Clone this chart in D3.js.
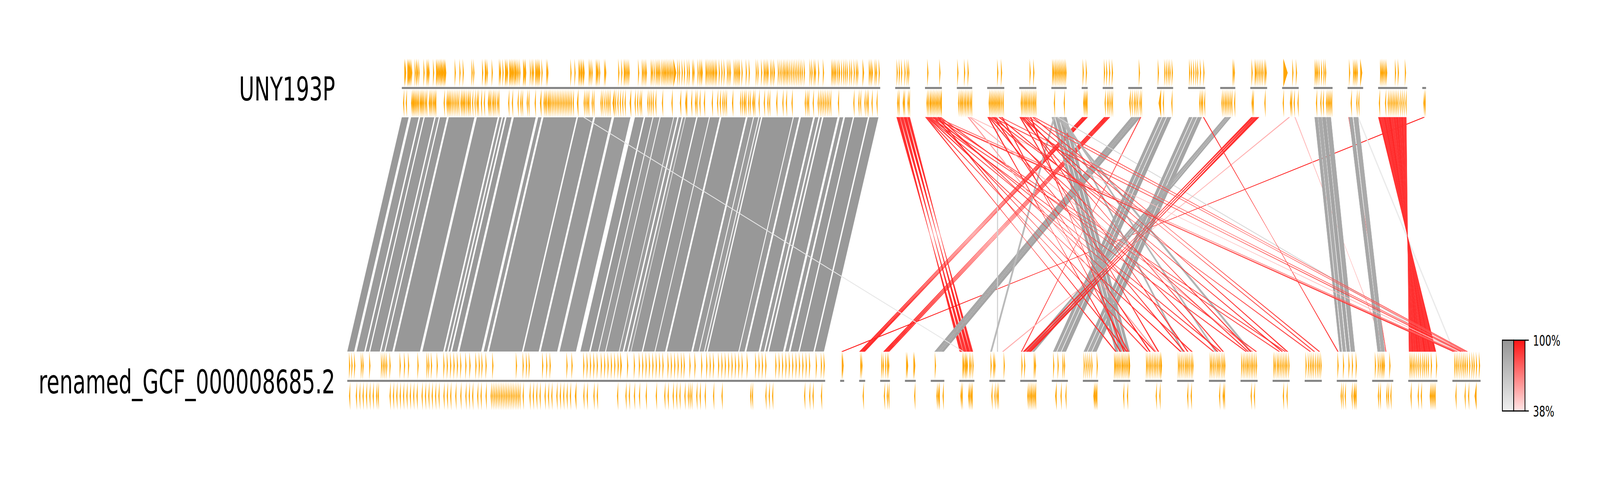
<!DOCTYPE html>
<html>
<head>
<meta charset="utf-8">
<script src="https://cdn.jsdelivr.net/npm/d3@7"></script>
<style>
  html, body { margin: 0; padding: 0; background: #ffffff; overflow: hidden; }
  svg { display: block; width: 100vw; height: 100vh; font-family: "DejaVu Sans", sans-serif; }
</style>
</head>
<body>
<svg id="chart" viewBox="0 0 6358 1225" preserveAspectRatio="none"></svg>
<script>
// ===================== DATA (kb) =====================
const trackNames = ["UNY193P", "renamed_GCF_000008685.2"];

// segment (replicon) sizes in kb, in drawing order
const topSegSizes = [950.5, 29.5, 33.5, 30.5, 34, 34, 30.5, 12, 21, 27.5, 32, 34, 30, 33.5, 33, 37.5, 31, 58, 7.5];
const botSegSizes = [949.5, 8, 12, 19.5, 21.5, 27, 30, 31.5, 33, 32, 30.5, 34, 33.5, 33.5, 33, 34, 34, 34, 40.5, 42, 58, 56];

// genes: start kb (default length) or [start, length]
const topChromFwd = [5, 6.3, 11, 12.3, [13.5, 2.5], 15, 16.5, 18.5, 25.5, 28.5, 30, 33, 43, 49, 51, 53, 62, 68, 69.5, 71.5, 73.5, 75.5, 77.5, 79, 81, 83, 84.5, 86, 105, 114.5, 121, 138.5, 142, 159.5, 165, 166.5, 169, 178.5, 193, 195, 200, [205, 3], 207, 209, 213.5, 215, 217, 219, 221, [223.5, 3], 225.5, 228, 230.5, 233.5, [241, 4], 244, 245, 254.5, 258, 260.5, 265, 267, 269, 271, 273, 277.5, 287, 289, 335, 343, 351, 353, 355.5, 357, 359.5, 361, 371.5, 374, 377, 385.5, 387, 389, 392, 402, 404, 430, 436, 441, 443, 445.5, 448, 450.5,
  469.4, 477, 479.6, 482.4, 484.8, 494.6, 497, 500.6, 504.5, 507, 509.4, 512, 515.7, 518.5, 521, 523.4, 526.2, 528.7, 531.5, 534, 536.7, [539.5, 6], 547.3, 550.8, 556, 560.6, 566.5, [570, 2.5], 577, 579.5, 587.6, 591, 593.6, 595.7, 603.4, 605.8, 608.6, 611.4, 614, 616.7, 619, 622, 624.4, 629.7, 635, 639.5, 646, 649, 651.8, 659.5, 662.3, 665, 667.6, [670, 2.5], 675, 683.4, 689.3, 703.3, 706.8, 713.9, 719, 721.6, 724.4, 726.8, 732, 735, [738.4, 3], 747.2, 750.7, 754.2, 757.7, 760.5, 763.7, 766.5, 770, 773.5, 777, 780.5, 784, 787.5, 791, 794.5, 798.7, 810.3, [813.8, 2.5], 818.4, 820.8, 827.2, 836.6, 853.5, 856, 858.7, 861.2, 864.7, [868, 3], 872.8, 877, 880.5, 884, 889.2, 892.7, 898, 902.2, 905, [915.5, 3], 927.8, 930.3, [933, 3], 939.4, 942.2, 947.5];

const topChromRev = [2.4, 7.8, 18.4, 20.6, 22.5, 24.7, 27, 29.5, 32, 35.3, 37.5, 39.7, 42.3, 45.5, 48, 53.4, 55.7, 58.2, 61.4, 64, 66.2, 83.1, 88.5, 91, 93.3, 95.9, 99, 102.2, 105.4, 108.6, 111.8, 116.3, 118.8, 121.4, 123.6, 126.8, 130, 132.2, 134.8, 139.5, 144.3, 148.2, 150.7, 157, 162.8, 170.8, 173, 175.6, 179.4, 182, 185.1, 189, 191.5, 211.3, 218.6, 229.8, 235.2, 238.4, 248, 251.2, 263.9, [274.4, 3], 281.4, 284, 286.2, 289.4, 291.6, 294.2, 297.4, 300.6, 303.8, 307, 310.1, 313.3, 316.5, 319.7, 322.9, 326.1, 329.3, 332.5, 335.7, 339.5, [347.8, 3], 361.2, 364.4, 367.5, 370.1, 377.1, 380.3, 394.6, 397.8, 402, 405.8, 409, 412.2, [418.6, 4], 423.4, 428.1, 432.9, 437.7, 442.5,
  [452.6, 3], 462.4, 467.3, 471.8, [474.6, 2.5], 487.6, 491.1, 494.6, 498.2, 503.4, 516.7, 535.7, [552.5, 2.5], 563, 564.8, 574.6, 582.3, 585.1, 591.1, [599.9, 2.5], 615.7, 626.2, [631.4, 2.5], 636.7, 640.2, 643.7, [656, 2.5], 671.8, 675.3, [678.8, 3], 682.3, 687.6, 691.1, [696.3, 3], 699.8, 708.6, 719.1, 726.1, 729.6, [743.7, 2.5], 756, 763, 774.2, 800.5, 804, [806.8, 2.5], 816.3, 826.1, 829.6, 833.1, 836.6, 840.1, 843.6, 847.1, 850.7, 866.4, 897, 906.8, 910.3, 919, 922.6, 925.4, 933.1, 942.9];

const botChromFwd = [3.5, 8.2, 13.6, 27, 30.3, 43.7, 67.1, 70.5, 73.8, 77.2, 83.9, 104, 112.7, 120.7, 139.5, 157.5, 160.9, 166.3, 177.6, 191, 197.7, 204.4, 211.1, 217.8, 224.5, 234.6, [242.6, 2.5], 254.6, 261.3, 266.7, 274.7, 288.1, 335, 348.4, 355.1, 360.5, 387.2, 395.3, 402, 435.5, 445.5, 468.9, 475.6, 482.3, 489, 495.7, 503.8, 510.5, 517.2, 523.8, 530.5, 537.2, [542.6, 3], 556, 569.4, 579.4, 586.1, 592.8, 599.5, 606.2, 612.9, 619.6, 626.3, 636.4, 643, 649.7, 656.4, 663.1, 668.5, 679.9, 689.9, 703.3, 713.3, 720.1, 726.7, 736.8, 743.5, 750.2, 756.9, 763.6, 770.3, 777, 783.7, 793.7, 810.5, 817.2, 823.9, 830.6, 850.6, 857.3, 864, 870.7, 877.4, 884.1, 890.8, 897.5, 904.2, 910.9, 917.6, 931, 941, 946.5];

const botChromRev = [3.5, 16.9, 23.6, 30.3, 37, 43.7, 50.4, 57.1, 60.4, 83.9, 90.6, 97.3, 104, 110.7, 117.4, 124.1, 130.8, 137.5, 147.5, 154.2, 160.9, 167.6, 174.3, 181, 191, 197.7, 204.4, 214.5, 224.5, 234.6, 241.3, 248, 258, 264.7, 274.7, 284.8, 288.1, 291.5, 294.8, 298.2, 301.5, 304.9, 308.2, 311.6, 314.9, 318.3, 321.6, 325, 328.3, 331.7, 335, 338.4, 341.7, 348.4, 361.8, 368.5, 375.2, 381.9, 391.9, 398.6, 405.3, 415.4, 422.1, 428.8, 435.5, 442.2, [452.2, 3], 468.9, 475.6, 489, 495.7, 535.9, 552.6, 559.3, 569.4, 579.4, 592.8, 612.9, 629.7, 636.4, 646.4, 653.1, 659.8, 669.8, 676.5, 679.9, 683.2, 693.3, 700, 710, 726.7, 743.5, 800.4, 803.8, 830.6, 837.3, 844, 907.6, 917.6, 924.3, 941];

// plasmid genes (segments 2..n, local kb)
const topPlasmidFwd = [
  [2.9, 7.3, 11.8, 18.5, 23, 26],
  [4.5, 28.5],
  [0.9, 14.3, 21.4],
  [19.9, 27.4],
  [20.6, 27.8],
  [1.8, 3.9, 6.7, 9.3, 12, 14.7, 17.3, 20, 22.7, 25.4, 28],
  [2, 8.3],
  [2.5, 7, 12.8, 18.2],
  [21.1],
  [1.5, 14.5, 18, 21.6, 24.8, 29.2],
  [2, 5.7, 10.2, 14.6, 18.2, 23.5, 30.3],
  [24.7, 27],
  [2.5, [8.9, 2.5], 11.1, 14.3, 17.5, 20.7, [23.9, 2.5], 28, [30.2, 2.5]],
  [[2.5, 8.6], 20.3, 27.4],
  [2, 4.5, 6.8, 10, 14.7, 19.5, 22.7],
  [3, 11, 13.5, 15.7, 18.3, [25.3, 4]],
  [4, 6.3, 8.5, 11, 13.6, 15.8, 33.4, 39.1, 53.2],
  []
];
const topPlasmidRev = [
  [3.7, 6.4, 14.9, 17.1, 24.3, 26.9],
  [2.8, 5.5, 8.6, 10.8, 13.5, 16.2, 18.9, 21.6, 24.2, 26.9, 29.6, 31.1],
  [2.3, 5.4, 8.1, 10.7, 13.9, 16.5, 19.7, 22.3, 25.5, 28],
  [2.9, 5.6, 8.3, 11, 13.6, 16.3, 19, 21.7, 24.3, 27.5, 30.6],
  [2.8, 5.5, 8.6, 11.3, 14, 17.1, 19.8, 22.9, 26, 28.7, 31.5],
  [4.9, 24.5],
  [2.9, 5.2, 7.4, 9.4],
  [3.8, 8.3, 11.4, 15, 18.1],
  [[1.9, 3], 6.4, 10.8, 14, 17.5, 22, 24.9],
  [[3, 5], 11.4, 28.3],
  [21.9, 25, 27.5, 31.5],
  [2.4, 5.6, [8.8, 2.5], 12, 15.2, 18.4, [21.5, 2.5], 27.5],
  [2.5, 4.8, 28],
  [1.2, 15.5, 17.8, 22.9, 30.5],
  [4.5, 13.1, 17.9, 24.3, 26.9, 29.4, 31.9, 34.5],
  [6.2, 17.4, 21.2],
  [1.5, 13.6, 19, 22.2, 25.4, 28.6, 31.8, 35, 38.2, 42.3, 46.1, 50, 54.1],
  [2.1, 4.4]
];
const botPlasmidFwd = [
  [3.2, 4.7],
  [2.2, 4.5],
  [2.3, 5.3, 9.9, 13.7, 16],
  [2.3, 4.1, 16.8, 18.3],
  [8.2],
  [6.3, 8.3, 11, 12.9, 14.8, 19.7, 22.4, 26.2],
  [2.4, 7.7, 10, 28.5],
  [2.5, 7.9, 27, 29.3],
  [2.8, 11.6, 21.2, 24.3],
  [1.7, 5.6, 9.4, 13.2, 17, 27.5],
  [2, 4.4, 7.2, 10.1, 13, 16.3, 18.7, 21.6, 24.5, 27.3, 30.2, 31.5],
  [1.6, 4.5, 7.8, 10.7, 14, 17.4, 20.3, 23.6, 27, 29.8, 31],
  [1.7, 4.6, 7.9, 11.3, 15.1, 18, 20.9, 24.2, 27.6, 30.4],
  [1.9, 4.7, 8.1, 11.4, 15.2, 18.1, 21, 24.8, 27.7, 30.5],
  [1.5, 4.9, 8.2, 11.6, 14.4, 17.8, 21.1, 24, 27.4, 30.7],
  [1.7, 4.5, 8.4, 11.2, 14.6, 17.9, 21.3, 24.6, 27.5, 31.3],
  [1.8, 6.5, 10.3, 13.7, 17, 20.9, 24.7, 28, 31.4],
  [1.4, 12.4, 23.3, 30.1, 37.7],
  [5.5, 11.3, 15, 18.4, 20.8, 23.2, 34.2],
  [2.9, 5.8, 9.1, 12.5, 16.3, 20.1, 23.9, 28.2, 31.6, 35.4, 39.2, 45, 55.3],
  [3.9, 7.2, 10.5, 14.4, 18.2, 21.6, 24.9, 28.7, 33.5, 38.3, 42.1, 46.9, 52.7]
];
const botPlasmidRev = [
  [],
  [7],
  [7.3, 13, 16],
  [18.3],
  [11.2, 13.9, 15.8, 23.5],
  [2.2, 4.5, 17.5, 19.8, 22.4, 24.3],
  [3.9, 10, 13.8, 16.5],
  [14, 16.7, 19.4, 21.7, 24.4, 27, 29.3],
  [[6.7, 3], 17.3, 26.9],
  [20.9, 22.8, 24.7, 26.6],
  [19.7, 27.3],
  [20.7, 27.9],
  [19.9, 27],
  [20, 27.2, 29.6],
  [20.1, 26.4],
  [20.3, 27.5],
  [],
  [7.6, 11, 15.7, 29.1, 32.9, 34.9, 37.2],
  [11.3, 15, 27.9, 31.3, 36.1],
  [4.3, 18.7, 24.9, 42.6, 45, 47.4, 49.8, 52.2],
  [5.8, 24, 31.1, [44, 4]]
];

// collinear chromosome matches: [start, end, identity] (same kb on both genomes)
const chromBlocks = [[0, 13.6, 97], [18.4, 33.7, 96], [36.5, 43.2, 98], [45.5, 64.6, 97], [67.2, 73.5, 95], [75.8, 89.5, 97], [93.3, 144.3, 98], [149.1, 190.6, 97], [193.7, 198.5, 95], [201, 204.9, 96], [208, 218.3, 97], [222.5, 266.1, 98], [270.9, 277.6, 96], [281.4, 347.1, 97], [350, 380.3, 98], [384.1, 417, 97], [421.8, 454.3, 96], [463.1, 480.6, 97], [483.4, 498.2, 98], [499.9, 512.2, 96], [513.9, 539.5, 97], [540.9, 547.3, 95], [550.1, 556, 96], [558.5, 563, 95], [564.1, 585.1, 97], [587.6, 610.4, 98], [612.1, 631.4, 97], [634.9, 683.4, 98], [686.9, 698.1, 96], [699.8, 708.6, 95], [710.4, 713.9, 95], [716.3, 777, 98], [778.8, 789.3, 96], [792.8, 817.3, 97], [820.8, 827.9, 95], [830.7, 834.9, 95], [837.7, 865.7, 97], [869.9, 877.1, 96], [880.5, 896.3, 97], [898.7, 926.1, 98], [928.9, 947, 97]];

// other matches: [topSeg, topStart, topEnd, botSeg, botStart, botEnd, identity]; botStart > botEnd = inverted
const plasmidLinks = [
  [2, 3, 9, 7, 7, 1, 92], [2, 10, 16, 7, 14, 8, 90], [2, 17, 23, 7, 21, 15, 93], [2, 24, 29, 7, 27, 22, 91],
  [19, 2, 4.5, 2, 5.5, 3, 99],
  [8, 1, 3, 3, 3, 1, 95], [8, 4, 6, 3, 6, 4, 94], [8, 7, 9, 3, 9, 7, 96], [8, 9.5, 11.5, 3, 11.5, 9.5, 93],
  [9, 3, 5, 4, 9, 7, 95], [9, 6, 8, 4, 12, 10, 94], [9, 9, 11, 4, 15, 13, 96], [9, 12, 14, 4, 18, 16, 92],
  [10, 6, 12, 6, 8, 14, 88], [10, 13, 18, 6, 15, 20, 86], [10, 19, 24, 6, 21, 26, 90],
  [10, 24, 25.5, 9, 3.5, 2, 85],
  [5, 20, 21.5, 8, 15.5, 17, 60],
  [7, 1, 6, 12, 5, 10, 88], [7, 8, 14, 12, 12, 18, 86], [7, 16, 22, 12, 20, 26, 90], [7, 24, 30, 12, 28, 33, 87],
  [7, 4, 7, 8, 2, 5, 75], [7, 10, 14, 16, 18, 22, 80], [7, 18, 21, 14, 10, 13, 78], [7, 20, 23, 15, 12, 15, 76], [7, 12, 13.5, 22, 8, 9.5, 55],
  [11, 3, 9, 10, 3, 9, 88], [11, 11, 18, 10, 11, 18, 86], [11, 20, 28, 10, 20, 28, 90],
  [12, 2, 8, 11, 2, 8, 88], [12, 10, 17, 11, 10, 17, 85], [12, 19, 27, 11, 19, 27, 89],
  [13, 9, 13, 9, 12, 16, 86], [13, 14, 17, 9, 18, 21, 84], [13, 18, 21, 9, 24, 28, 88],
  [14, 2, 6, 9, 10, 6, 92], [14, 7, 11, 9, 16, 12, 90], [14, 12, 17, 9, 22, 17, 93],
  [15, 13, 15, 8, 28, 26, 55],
  [12, 30, 31.5, 19, 3, 1.5, 88],
  [15, 25, 26.5, 20, 28, 26.5, 50],
  [17, 2, 3, 20, 28, 27, 80],
  [17, 20, 22, 22, 2, 4, 42],
  [16, 2, 8, 19, 6, 10, 88], [16, 9, 16, 19, 12, 18, 86], [16, 17, 24, 19, 20, 26, 90], [16, 25, 34, 19, 28, 36, 87],
  [17, 3, 10, 20, 11, 17, 88], [17, 12, 21, 20, 18, 25, 86],
  [18, 0.5, 5, 21, 55, 50.5, 92], [18, 5.5, 10, 21, 50, 45.5, 90], [18, 10.5, 15, 21, 45, 40.5, 93], [18, 15.5, 20, 21, 40, 35.5, 91],
  [18, 20.5, 25, 21, 35, 30.5, 94], [18, 25.5, 30, 21, 30, 26, 90], [18, 30.5, 35, 21, 25.5, 21, 92], [18, 35.5, 40, 21, 20.5, 16, 93],
  [18, 40.5, 45, 21, 15.5, 11, 91], [18, 45.5, 50, 21, 10.5, 6, 92], [18, 50.5, 56, 21, 5.5, 1.5, 90],
  [3, 1, 3, 12, 6, 4, 90], [3, 2, 4, 13, 5, 3, 85], [3, 4, 6, 14, 8, 6, 92], [3, 5, 7, 15, 10, 8, 88], [3, 7, 9, 16, 12, 10, 90],
  [3, 9, 11, 17, 14, 12, 86], [3, 11, 13, 22, 3, 1, 94], [3, 13, 15, 22, 6, 4, 80], [3, 16, 18, 13, 20, 18, 91], [3, 18, 20, 15, 24, 22, 89],
  [3, 20, 22, 17, 26, 24, 87], [3, 22, 24, 22, 10, 8, 75], [3, 25, 27, 12, 28, 26, 93], [3, 27, 29, 14, 30, 28, 90], [3, 30, 32, 16, 32, 30, 88],
  [4, 22, 24, 13, 22, 20, 60], [4, 25, 27, 16, 25, 23, 55], [4, 27, 29, 22, 14, 12, 50],
  [5, 1, 3, 12, 15, 13, 92], [5, 3, 5, 14, 15, 13, 90], [5, 5, 7, 16, 16, 14, 88], [5, 8, 10, 18, 12, 10, 85], [5, 10, 12, 22, 18, 16, 90],
  [5, 13, 15, 13, 10, 8, 93], [5, 16, 18, 15, 18, 16, 89], [5, 23, 25, 17, 20, 18, 91], [5, 26, 28, 22, 22, 20, 80], [5, 29, 31, 12, 31, 29, 88],
  [6, 1, 3, 13, 27, 25, 90], [6, 3, 5, 15, 29, 27, 88], [6, 5, 7, 17, 30, 28, 92], [6, 8, 10, 14, 22, 20, 89], [6, 11, 13, 16, 21, 19, 91],
  [6, 14, 16, 18, 20, 18, 85], [6, 17, 19, 22, 26, 24, 80], [6, 22, 24, 12, 22, 20, 93], [6, 26, 28, 18, 30, 28, 87], [6, 29, 31, 22, 30, 28, 82],
  [1, 361, 362.5, 7, 7, 8.5, 45]
];

const identityRange = [38, 100];
const legendLabels = ["100%", "38%"];

// ===================== LAYOUT =====================
const GAP = 29.75;        // kb between replicons
const DEF_LEN = 2.3;      // default gene length kb
const Y_TOP = 225, Y_BOT = 974, FEAT_H = 75, AXIS_H = 5;

const svg = d3.select("#chart");

function trackTotal(sizes) { return d3.sum(sizes) + GAP * (sizes.length - 1); }
const maxTotal = Math.max(trackTotal(topSegSizes), trackTotal(botSegSizes));
const x = d3.scaleLinear().domain([0, maxTotal]).range([1380, 5883.5]);

function segOffsets(sizes) {
  const res = []; let p = (maxTotal - trackTotal(sizes)) / 2;
  sizes.forEach(s => { res.push(p); p += s + GAP; });
  return res;
}
const topOff = segOffsets(topSegSizes);
const botOff = segOffsets(botSegSizes);

const greyScale = d3.scaleLinear().domain(identityRange).range(["#f0f0f0", "#959595"]).clamp(true);
const redScale = d3.scaleLinear().domain(identityRange).range(["#ffe6e6", "#ff1414"]).clamp(true);

// ---- links ----
const linkData = [];
chromBlocks.forEach(([s, e, id]) => linkData.push({ ts: 1, a: s, b: e, bs: 1, c: s, d: e, id }));
plasmidLinks.forEach(([ts, a, b, bs, c, d, id]) => linkData.push({ ts, a, b, bs, c, d, id }));

const yL1 = Y_TOP + FEAT_H, yL2 = Y_BOT - FEAT_H;
const linkColor = l => (l.c > l.d ? redScale(l.id) : greyScale(l.id));
svg.append("g").selectAll("path").data(linkData).join("path")
  .attr("d", l => {
    const x1 = x(topOff[l.ts - 1] + l.a), x2 = x(topOff[l.ts - 1] + l.b);
    const x3 = x(botOff[l.bs - 1] + l.d), x4 = x(botOff[l.bs - 1] + l.c);
    return `M${x1},${yL1}L${x2},${yL1}L${x3},${yL2}L${x4},${yL2}Z`;
  })
  .attr("fill", linkColor)
  .attr("stroke", l => (l.ts === 1 && l.bs === 1 ? "none" : linkColor(l)))
  .attr("stroke-width", 1.2);

// ---- axes (replicon bars) ----
function drawAxes(sizes, offs, ya) {
  svg.append("g").selectAll("rect").data(sizes).join("rect")
    .attr("x", (s, i) => x(offs[i]))
    .attr("width", (s, i) => x(offs[i] + s) - x(offs[i]))
    .attr("y", ya - AXIS_H / 2).attr("height", AXIS_H)
    .attr("fill", "#808080");
}
drawAxes(topSegSizes, topOff, Y_TOP);
drawAxes(botSegSizes, botOff, Y_BOT);

// ---- genes ----
function collectGenes(lists, offs, strand, ya) {
  const out = [];
  lists.forEach((arr, i) => arr.forEach(g => {
    const [s, len] = Array.isArray(g) ? g : [g, DEF_LEN];
    out.push({ x0: x(offs[i] + s), x1: x(offs[i] + s + len), strand, ya });
  }));
  return out;
}
const genes = [].concat(
  collectGenes([topChromFwd, ...topPlasmidFwd], topOff, 1, Y_TOP),
  collectGenes([topChromRev, ...topPlasmidRev], topOff, -1, Y_TOP),
  collectGenes([botChromFwd, ...botPlasmidFwd], botOff, 1, Y_BOT),
  collectGenes([botChromRev, ...botPlasmidRev], botOff, -1, Y_BOT)
);
svg.append("g").selectAll("path").data(genes).join("path")
  .attr("d", g => {
    if (g.strand > 0) {
      const y0 = g.ya - FEAT_H, y1 = g.ya - AXIS_H / 2, ym = (y0 + y1) / 2;
      return `M${g.x0},${y0}L${g.x1},${ym}L${g.x0},${y1}Z`;
    } else {
      const y0 = g.ya + AXIS_H / 2, y1 = g.ya + FEAT_H, ym = (y0 + y1) / 2;
      return `M${g.x1},${y0}L${g.x0},${ym}L${g.x1},${y1}Z`;
    }
  })
  .attr("fill", "#ffa500");

// ---- track labels ----
svg.append("g").selectAll("text").data(trackNames).join("text")
  .attr("x", 1332)
  .attr("y", (d, i) => (i === 0 ? Y_TOP : Y_BOT) + 32)
  .attr("text-anchor", "end")
  .attr("font-size", 83)
  .attr("fill", "#000")
  .text(d => d);

// ---- colorbar legend ----
const defs = svg.append("defs");
[["gradGrey", greyScale], ["gradRed", redScale]].forEach(([id, sc]) => {
  const g = defs.append("linearGradient").attr("id", id).attr("x1", 0).attr("y1", 0).attr("x2", 0).attr("y2", 1);
  g.append("stop").attr("offset", "0%").attr("stop-color", sc(identityRange[1]));
  g.append("stop").attr("offset", "100%").attr("stop-color", sc(identityRange[0]));
});
const lg = svg.append("g");
const cbY = d3.scaleLinear().domain(identityRange).range([1051, 870]);
lg.append("rect").attr("x", 5970).attr("y", cbY(100)).attr("width", 45).attr("height", cbY(38) - cbY(100))
  .attr("fill", "url(#gradGrey)").attr("stroke", "#000").attr("stroke-width", 3);
lg.append("rect").attr("x", 6015).attr("y", cbY(100)).attr("width", 45).attr("height", cbY(38) - cbY(100))
  .attr("fill", "url(#gradRed)").attr("stroke", "#000").attr("stroke-width", 3);
const tickVals = [identityRange[1], identityRange[0]];
lg.selectAll("line").data(tickVals).join("line")
  .attr("x1", 6060).attr("x2", 6075)
  .attr("y1", d => cbY(d)).attr("y2", d => cbY(d))
  .attr("stroke", "#000").attr("stroke-width", 3);
lg.selectAll("text").data(tickVals).join("text")
  .attr("x", 6092).attr("y", d => cbY(d) + 14)
  .attr("font-size", 38).attr("fill", "#000")
  .text((d, i) => legendLabels[i]);
</script>
</body>
</html>
